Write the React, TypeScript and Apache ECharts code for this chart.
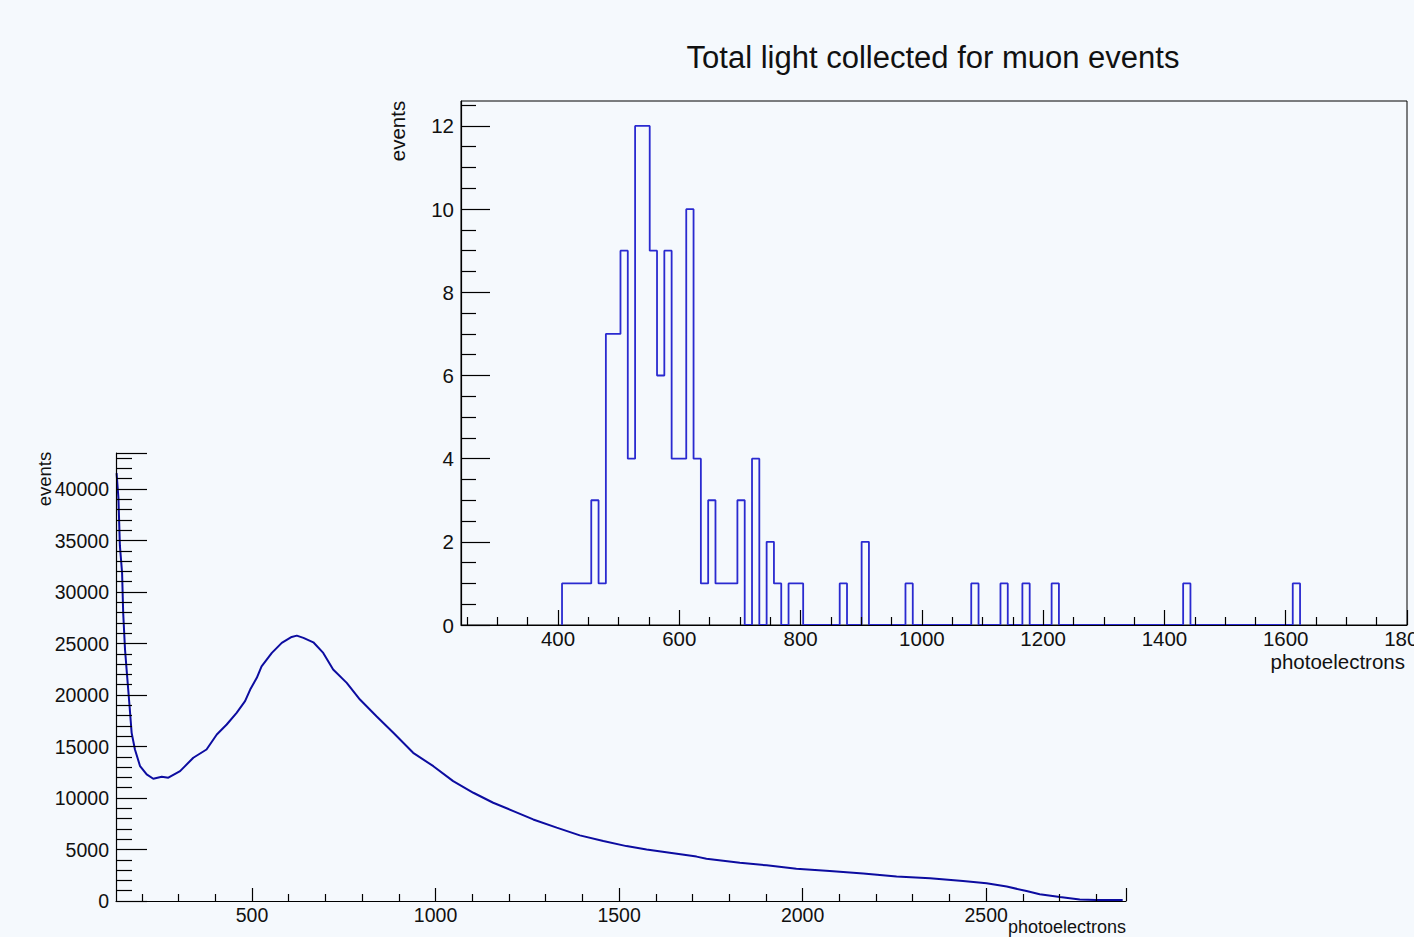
import React, { useEffect, useRef } from "react";
import * as echarts from "echarts";

// ---------- texts ----------
const TITLE = "Total light collected for muon events";
const X_TITLE = "photoelectrons";
const Y_TITLE = "events";

// ---------- inset histogram (muon events) ----------
const MUON_BIN_START = 406.6;
const MUON_BIN_WIDTH = 12.05;
const muonCounts = [
  1, 1, 1, 1, 3, 1, 7, 7, 9, 4,
  12, 12, 9, 6, 9, 4, 4, 10, 4, 1,
  3, 1, 1, 1, 3, 0, 4, 0, 2, 1,
  0, 1, 1, 0, 0, 0, 0, 0, 1, 0,
  0, 2, 0, 0, 0, 0, 0, 1, 0, 0,
  0, 0, 0, 0, 0, 0, 1, 0, 0, 0,
  1, 0, 0, 1, 0, 0, 0, 1, 0, 0,
  0, 0, 0, 0, 0, 0, 0, 0, 0, 0,
  0, 0, 0, 0, 0, 1, 0, 0, 0, 0,
  0, 0, 0, 0, 0, 0, 0, 0, 0, 0,
  1,
];
const insetXMin = 240;
const insetXMax = 1800;
const insetYMin = 0;
const insetYMax = 12.6;
const insetXLabels = [400, 600, 800, 1000, 1200, 1400, 1600, 1800];
const insetYLabels = [0, 2, 4, 6, 8, 10, 12];

// ---------- main histogram (all events) ----------
const allPE = [
  131, 136, 140, 146, 149, 154, 159, 166, 172, 181,
  195, 213, 231, 254, 272, 304, 340, 376, 404, 431,
  458, 481, 495, 513, 526, 554, 581, 608, 622, 640,
  667, 694, 721, 758, 794, 839, 885, 939, 994, 1048,
  1103, 1157, 1212, 1266, 1330, 1393, 1457, 1520, 1575, 1638,
  1711, 1738, 1829, 1902, 1983, 2074, 2165, 2256, 2347, 2437,
  2501, 2556, 2610, 2646, 2701, 2755, 2800, 2872,
];
const allEvents = [
  41550, 39130, 34500, 31850, 27970, 24410, 22150, 19080, 16330, 14710,
  13090, 12290, 11870, 12070, 11970, 12610, 13910, 14710, 16170, 17140,
  18270, 19400, 20530, 21670, 22790, 24090, 25060, 25640, 25770, 25550,
  25120, 24090, 22470, 21180, 19560, 17940, 16330, 14390, 13090, 11640,
  10510, 9540, 8730, 7920, 7120, 6370, 5820, 5330, 5010, 4690,
  4310, 4110, 3720, 3460, 3140, 2910, 2660, 2370, 2200, 1940,
  1720, 1400, 970, 650, 390, 140, 100, 90,
];
const mainXMin = 129.4;
const mainXMax = 2881;
const mainYMin = 0;
const mainYMax = 43500;
const mainXLabels = [500, 1000, 1500, 2000, 2500];
const mainYLabels = [0, 5000, 10000, 15000, 20000, 25000, 30000, 35000, 40000];

// ---------- styling ----------
const FONT = '"Liberation Sans", Arial, Helvetica, sans-serif';
const BG = "#f5f9fd";
const INK = "#111111";
const INSET_BLUE = "#2a2ad0";
const MAIN_BLUE = "#0c0ca0";

function range(from: number, to: number, step: number, skip: number[]): number[] {
  const out: number[] = [];
  for (let v = from; v <= to + 1e-9; v += step) {
    const r = Math.round(v * 1000) / 1000;
    if (!skip.some((s) => Math.abs(s - r) < 1e-6)) out.push(r);
  }
  return out;
}

export default function App() {
  const ref = useRef<HTMLDivElement>(null);

  useEffect(() => {
    if (!ref.current) return;
    const chart = echarts.init(ref.current, undefined, { renderer: "svg" });

    // inset step outline built from the bin counts
    const insetData: number[][] = [[MUON_BIN_START, 0]];
    muonCounts.forEach((c, i) => {
      insetData.push([MUON_BIN_START + i * MUON_BIN_WIDTH, c]);
    });
    const lastEdge = MUON_BIN_START + muonCounts.length * MUON_BIN_WIDTH;
    insetData.push([lastEdge, muonCounts[muonCounts.length - 1]]);
    insetData.push([lastEdge, 0]);

    const mainData = allPE.map((x, i) => [x, allEvents[i]]);

    const insetXMinor = range(250, 1750, 50, insetXLabels);
    const insetYMinor = range(0.5, 12.5, 0.5, insetYLabels);
    const mainXMinor = range(200, 2800, 100, mainXLabels);
    const mainYMinor = range(1000, 43000, 1000, mainYLabels);

    const plain = (v: number) => String(v);
    const labelStyle = (size: number, margin: number) => ({
      color: INK,
      fontSize: size,
      fontFamily: FONT,
      margin,
      formatter: plain,
    });

    const tickStyle = { color: "#000", width: 1.2 };

    const option: any = {
      animation: false,
      backgroundColor: BG,
      grid: [
        {
          left: 116,
          top: 453,
          width: 1010,
          height: 448,
          show: false,
          containLabel: false,
          outerBoundsMode: "none",
        },
        {
          left: 461,
          top: 101,
          width: 946,
          height: 524,
          show: true,
          borderColor: "#000",
          borderWidth: 1,
          backgroundColor: "transparent",
          containLabel: false,
          outerBoundsMode: "none",
          z: 0,
        },
      ],
      xAxis: [
        {
          gridIndex: 0,
          type: "value",
          position: "bottom",
          min: mainXMin,
          max: mainXMax,
          z: 3,
          axisLine: { show: true, lineStyle: tickStyle },
          axisTick: {
            show: true,
            inside: true,
            length: 13,
            customValues: [...mainXLabels, mainXMax],
            lineStyle: tickStyle,
          },
          axisLabel: { ...labelStyle(19.5, 4), customValues: mainXLabels },
          splitLine: { show: false },
        },
        {
          gridIndex: 0,
          type: "value",
          position: "bottom",
          min: mainXMin,
          max: mainXMax,
          z: 3,
          axisLine: { show: false },
          axisTick: {
            show: true,
            inside: true,
            length: 7,
            customValues: mainXMinor,
            lineStyle: tickStyle,
          },
          axisLabel: { show: false },
          splitLine: { show: false },
        },
        {
          gridIndex: 1,
          type: "value",
          position: "bottom",
          min: insetXMin,
          max: insetXMax,
          z: 3,
          axisLine: { show: true, lineStyle: tickStyle },
          axisTick: {
            show: true,
            inside: true,
            length: 15,
            customValues: insetXLabels,
            lineStyle: tickStyle,
          },
          axisLabel: { ...labelStyle(20.5, 3), customValues: insetXLabels },
          splitLine: { show: false },
        },
        {
          gridIndex: 1,
          type: "value",
          position: "bottom",
          min: insetXMin,
          max: insetXMax,
          z: 3,
          axisLine: { show: false },
          axisTick: {
            show: true,
            inside: true,
            length: 8,
            customValues: insetXMinor,
            lineStyle: tickStyle,
          },
          axisLabel: { show: false },
          splitLine: { show: false },
        },
      ],
      yAxis: [
        {
          gridIndex: 0,
          type: "value",
          position: "left",
          min: mainYMin,
          max: mainYMax,
          z: 3,
          axisLine: { show: true, lineStyle: tickStyle },
          axisTick: {
            show: true,
            inside: true,
            length: 31,
            customValues: [...mainYLabels, mainYMax],
            lineStyle: tickStyle,
          },
          axisLabel: { ...labelStyle(19.5, 7), customValues: mainYLabels },
          splitLine: { show: false },
        },
        {
          gridIndex: 0,
          type: "value",
          position: "left",
          min: mainYMin,
          max: mainYMax,
          z: 3,
          axisLine: { show: false },
          axisTick: {
            show: true,
            inside: true,
            length: 16,
            customValues: mainYMinor,
            lineStyle: tickStyle,
          },
          axisLabel: { show: false },
          splitLine: { show: false },
        },
        {
          gridIndex: 1,
          type: "value",
          position: "left",
          min: insetYMin,
          max: insetYMax,
          z: 3,
          axisLine: { show: true, lineStyle: tickStyle },
          axisTick: {
            show: true,
            inside: true,
            length: 29,
            customValues: insetYLabels,
            lineStyle: tickStyle,
          },
          axisLabel: { ...labelStyle(20.5, 7), customValues: insetYLabels },
          splitLine: { show: false },
        },
        {
          gridIndex: 1,
          type: "value",
          position: "left",
          min: insetYMin,
          max: insetYMax,
          z: 3,
          axisLine: { show: false },
          axisTick: {
            show: true,
            inside: true,
            length: 15,
            customValues: insetYMinor,
            lineStyle: tickStyle,
          },
          axisLabel: { show: false },
          splitLine: { show: false },
        },
      ],
      series: [
        {
          name: "all",
          type: "line",
          xAxisIndex: 0,
          yAxisIndex: 0,
          data: mainData,
          showSymbol: false,
          symbol: "none",
          lineStyle: { color: MAIN_BLUE, width: 2 },
          z: 2,
        },
        {
          name: "muon",
          type: "line",
          xAxisIndex: 2,
          yAxisIndex: 2,
          data: insetData,
          step: "end",
          showSymbol: false,
          symbol: "none",
          lineStyle: { color: INSET_BLUE, width: 1.8 },
          z: 2,
        },
      ],
      graphic: [
        {
          type: "text",
          x: 933,
          y: 57,
          style: {
            text: TITLE,
            fill: INK,
            fontSize: 31,
            fontFamily: FONT,
            textAlign: "center",
            textVerticalAlign: "middle",
            align: "center",
            verticalAlign: "middle",
          },
        },
        {
          type: "text",
          x: 397,
          y: 131,
          rotation: Math.PI / 2,
          style: {
            text: Y_TITLE,
            fill: INK,
            fontSize: 20.5,
            fontFamily: FONT,
            textAlign: "center",
            textVerticalAlign: "middle",
            align: "center",
            verticalAlign: "middle",
          },
        },
        {
          type: "text",
          x: 1405,
          y: 661,
          style: {
            text: X_TITLE,
            fill: INK,
            fontSize: 20.5,
            fontFamily: FONT,
            textAlign: "right",
            textVerticalAlign: "middle",
            align: "right",
            verticalAlign: "middle",
          },
        },
        {
          type: "text",
          x: 44,
          y: 479,
          rotation: Math.PI / 2,
          style: {
            text: Y_TITLE,
            fill: INK,
            fontSize: 18.5,
            fontFamily: FONT,
            textAlign: "center",
            textVerticalAlign: "middle",
            align: "center",
            verticalAlign: "middle",
          },
        },
        {
          type: "text",
          x: 1126,
          y: 927,
          style: {
            text: X_TITLE,
            fill: INK,
            fontSize: 18,
            fontFamily: FONT,
            textAlign: "right",
            textVerticalAlign: "middle",
            align: "right",
            verticalAlign: "middle",
          },
        },
      ],
    };

    chart.setOption(option);
    return () => {
      chart.dispose();
    };
  }, []);

  return (
    <div
      ref={ref}
      style={{
        position: "fixed",
        left: 0,
        top: 0,
        width: 1414,
        height: 937,
        background: BG,
      }}
    />
  );
}
